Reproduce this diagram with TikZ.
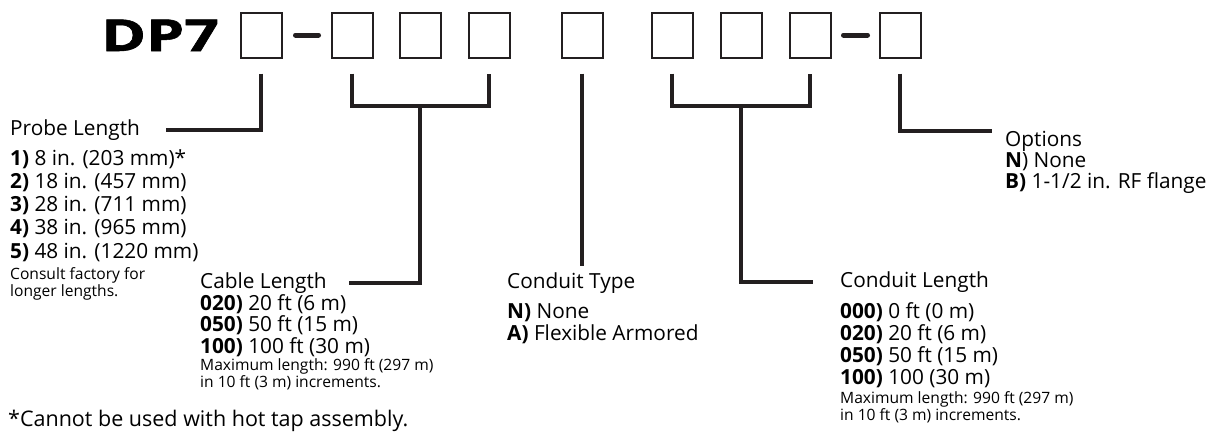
\documentclass[tikz,border=0pt]{standalone}
\usepackage{graphicx}
\usepackage{fontspec}
\setmainfont{Open Sans}
\newfontfamily\codefont[FakeBold=1.2]{Open Sans}
\usetikzlibrary{positioning, calc}
\definecolor{ink}{RGB}{35,31,32}
\newcommand{\fsize}[1]{\fontsize{#1}{#1}\selectfont}

\begin{document}
\begin{tikzpicture}[x=1pt, y=-1pt,
    slot/.style={draw=ink, line width=2pt, minimum width=41pt, minimum height=45pt, inner sep=0pt},
    lead/.style={draw=ink, line width=4pt},
    hdr/.style={font=\fsize{20.8}, anchor=base west, inner sep=0pt},
    item/.style={font=\fsize{20.8}, anchor=base west, inner sep=0pt},
    note/.style={font=\fsize{15.6}, anchor=base west, inner sep=0pt}]

    \useasboundingbox (0,0) rectangle (1212,437);

    % --- Code du modele ---
    \node[font=\codefont\bfseries\fsize{44}, anchor=base west, inner sep=0pt] (code) at (101,51) {\scalebox{1.38}[1]{DP7}};
    \foreach \n/\x in {1/261, 2/352, 3/420, 4/489, 5/582, 6/672, 7/741, 8/810, 9/900} {
        \node[slot] (b\n) at (\x,35) {};
        \coordinate (t\n) at ($(b\n.south)+(0,15)$);
    }
    \draw[ink, line width=5pt, line cap=round] ($(b1.east)+(13,0)$) -- ($(b2.west)+(-12,0)$);
    \draw[ink, line width=5pt, line cap=round] ($(b8.east)+(12,0)$) -- ($(b9.west)+(-11,0)$);

    % --- Probe Length ---
    \node[hdr] (probe) at (10,135) {Probe Length};
    \foreach \k/\v [count=\i] in {1/{8 in. (203 mm)*}, 2/{18 in. (457 mm)}, 3/{28 in. (711 mm)},
                                  4/{38 in. (965 mm)}, 5/{48 in. (1220 mm)}} {
        \node[item] (probe\i) at (10,{165+23.3*(\i-1)}) {\textbf{\k)} \v};
    }
    \node[note] (pnote1) at (10,279) {Consult factory for};
    \node[note] (pnote2) at (10,296) {longer lengths.};
    \draw[lead] (t1) |- ([xshift=26pt]probe.east);

    % --- Cable Length ---
    \node[hdr] (cable) at (200,288) {Cable Length};
    \foreach \k/\v [count=\i] in {020/{20 ft (6 m)}, 050/{50 ft (15 m)}, 100/{100 ft (30 m)}} {
        \node[item] (cable\i) at (200,{310+21.7*(\i-1)}) {\textbf{\k)} \v};
    }
    \node[note] (cnote1) at (200,370) {Maximum length: 990 ft (297 m)};
    \node[note] (cnote2) at (200,387) {in 10 ft (3 m) increments.};
    \coordinate (cj) at ($(b3.south)+(0,47)$);
    \draw[lead] (t2) |- (cj) -| (t4);
    \draw[lead] (cj) |- ([xshift=22pt]cable.east);

    % --- Conduit Type ---
    \node[hdr] (ctype) at (507,288) {Conduit Type};
    \foreach \k/\v [count=\i] in {N/None, A/{Flexible Armored}} {
        \node[item] (ctype\i) at (507,{318+22*(\i-1)}) {\textbf{\k)} \v};
    }
    \draw[lead] (t5) -- ([yshift=6pt]t5 |- ctype.north);

    % --- Conduit Length ---
    \node[hdr] (clen) at (840,287) {Conduit Length};
    \foreach \k/\v [count=\i] in {000/{0 ft (0 m)}, 020/{20 ft (6 m)}, 050/{50 ft (15 m)}, 100/{100 (30 m)}} {
        \node[item] (clen\i) at (840,{318+22.3*(\i-1)}) {\textbf{\k)} \v};
    }
    \node[note] (lnote1) at (840,403) {Maximum length: 990 ft (297 m)};
    \node[note] (lnote2) at (840,420) {in 10 ft (3 m) increments.};
    \coordinate (lj) at ($(b7.south)+(0,47)$);
    \draw[lead] (t6) |- (lj) -| (t8);
    \draw[lead] (lj) |- ([xshift=-27pt]clen.west);

    % --- Options ---
    \node[hdr] (opt) at (1005,146) {Options};
    \node[item] (opt1) at (1005,167) {\textbf{N}) None};
    \node[item] (opt2) at (1005,188) {\textbf{B)} 1-1/2 in. RF flange};
    \draw[lead] (t9) |- ([xshift=-13pt]opt.north west);

    % --- Renvoi ---
    \node[font=\fsize{21.5}, anchor=base west, inner sep=0pt] (foot) at (8,426) {*Cannot be used with hot tap assembly.};
\end{tikzpicture}
\end{document}
